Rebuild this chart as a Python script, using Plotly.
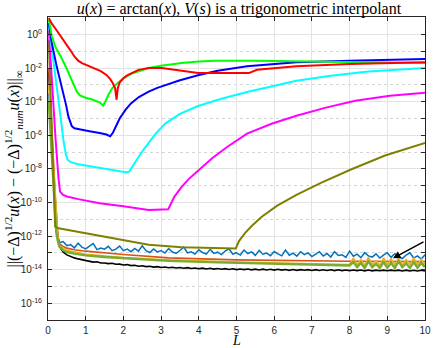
import plotly.graph_objects as go

# ---------------- data (log10 of the error) ----------------
red_L = [0.02, 0.1, 0.2, 0.28, 0.4, 0.5, 0.6, 0.7, 0.8, 0.9, 1.0, 1.2, 1.4, 1.55, 1.65, 1.72, 1.78, 1.82, 1.85, 1.9, 2.0, 2.1, 2.24, 2.4, 2.67, 3.02, 3.98, 5.33, 5.54, 6.59, 8.0, 10.0]
red_v = [1.0, 0.65, 0.35, 0.1, -0.3, -0.6, -0.95, -1.3, -1.55, -1.7, -1.8, -1.97, -2.17, -2.4, -2.65, -2.9, -3.2, -3.88, -3.2, -2.85, -2.6, -2.42, -2.25, -2.1, -1.99, -1.99, -2.29, -2.29, -2.09, -1.89, -1.75, -1.65]

green_L = [0.02, 0.1, 0.2, 0.36, 0.5, 0.58, 0.68, 0.76, 0.85, 1.0, 1.15, 1.28, 1.38, 1.46, 1.52, 1.6, 1.7, 1.8, 2.0, 2.24, 2.5, 2.67, 3.0, 3.54, 4.0, 4.41, 5.5, 6.59, 8.0, 10.0]
green_v = [0.9, -0.1, -0.75, -1.39, -2.05, -2.49, -3.0, -3.38, -3.62, -3.76, -3.85, -3.95, -4.05, -4.23, -4.0, -3.6, -3.2, -2.98, -2.6, -2.3, -2.1, -1.99, -1.85, -1.69, -1.6, -1.55, -1.55, -1.59, -1.64, -1.69]

blue_L = [0.02, 0.1, 0.23, 0.32, 0.41, 0.48, 0.54, 0.59, 0.63, 0.7, 0.85, 1.1, 1.37, 1.55, 1.65, 1.72, 1.8, 1.9, 2.06, 2.2, 2.41, 2.67, 2.9, 3.11, 3.5, 3.98, 4.5, 5.28, 6.0, 6.59, 8.0, 10.0]
blue_v = [0.7, -0.5, -1.89, -2.7, -3.48, -4.2, -4.87, -5.25, -5.45, -5.58, -5.66, -5.75, -5.86, -5.95, -6.06, -5.85, -5.47, -5.0, -4.47, -4.1, -3.72, -3.4, -3.17, -3.0, -2.72, -2.42, -2.15, -1.89, -1.75, -1.65, -1.55, -1.45]

cyan_L = [0.02, 0.1, 0.2, 0.3, 0.41, 0.47, 0.52, 0.6, 0.8, 1.0, 1.37, 1.7, 2.06, 2.15, 2.25, 2.41, 2.54, 2.67, 2.85, 3.11, 3.5, 3.98, 4.6, 5.28, 6.0, 6.59, 7.5, 8.5, 10.0]
cyan_v = [0.6, -0.9, -2.6, -4.3, -6.3, -7.1, -7.45, -7.6, -7.72, -7.8, -7.96, -8.08, -8.2, -8.17, -7.8, -7.26, -6.83, -6.42, -5.92, -5.3, -4.72, -4.25, -3.82, -3.42, -3.05, -2.75, -2.45, -2.2, -1.99]

magenta_L = [0.02, 0.1, 0.2, 0.28, 0.32, 0.4, 0.5, 0.8, 1.37, 2.0, 2.67, 3.19, 3.35, 3.53, 3.71, 3.98, 4.37, 4.76, 5.28, 5.93, 6.59, 7.37, 8.15, 9.07, 10.0]
magenta_v = [0.3, -2.8, -6.2, -8.6, -9.35, -9.55, -9.64, -9.8, -10.04, -10.22, -10.44, -10.4, -9.66, -9.12, -8.65, -8.11, -7.33, -6.68, -5.9, -5.31, -4.83, -4.35, -3.94, -3.64, -3.46]

olive_L = [0.02, 0.1, 0.19, 0.28, 0.5, 1.0, 1.37, 2.0, 2.67, 3.54, 4.3, 4.98, 5.07, 5.23, 5.41, 5.67, 6.07, 6.59, 7.24, 8.02, 8.94, 10.0]
olive_v = [-0.3, -6.0, -11.44, -11.54, -11.63, -11.85, -12.03, -12.28, -12.52, -12.66, -12.72, -12.74, -12.28, -11.81, -11.39, -10.85, -10.2, -9.54, -8.83, -8.05, -7.2, -6.46]

# shared L grid for the noisy curves
grid_L = [0.3, 0.4, 0.5, 0.6, 0.7, 0.8, 0.9, 1.0, 1.1, 1.2,
          1.3, 1.4, 1.5, 1.6, 1.7, 1.8, 1.9, 2.0, 2.1, 2.2,
          2.3, 2.4, 2.5, 2.6, 2.7, 2.8, 2.9, 3.0, 3.1, 3.2,
          3.3, 3.4, 3.5, 3.6, 3.7, 3.8, 3.9, 4.0, 4.1, 4.2,
          4.3, 4.4, 4.5, 4.6, 4.7, 4.8, 4.9, 5.0, 5.1, 5.2,
          5.3, 5.4, 5.5, 5.6, 5.7, 5.8, 5.9, 6.0, 6.1, 6.2,
          6.3, 6.4, 6.5, 6.6, 6.7, 6.8, 6.9, 7.0, 7.1, 7.2,
          7.3, 7.4, 7.5, 7.6, 7.7, 7.8, 7.9, 8.0, 8.1, 8.2,
          8.3, 8.4, 8.5, 8.6, 8.7, 8.8, 8.9, 9.0, 9.1, 9.2,
          9.3, 9.4, 9.5, 9.6, 9.7, 9.8, 9.9, 10.0]

black_head_L = [0.02, 0.1, 0.2]
black_head_v = [-2.2, -6.0, -11.0]
black_v = [-12.60, -12.95, -13.12, -13.22, -13.30, -13.36, -13.40, -13.47, -13.48, -13.55,
           -13.53, -13.60, -13.60, -13.64, -13.62, -13.68, -13.67, -13.72, -13.70, -13.76,
           -13.74, -13.80, -13.77, -13.82, -13.80, -13.85, -13.82, -13.87, -13.84, -13.89,
           -13.86, -13.90, -13.87, -13.92, -13.88, -13.93, -13.90, -13.95, -13.91, -13.96,
           -13.92, -13.97, -13.93, -13.98, -13.94, -13.99, -13.95, -14.00, -13.96, -14.00,
           -13.96, -14.01, -13.97, -14.02, -13.97, -14.02, -13.98, -14.03, -13.98, -14.03,
           -13.99, -14.04, -13.99, -14.04, -14.00, -14.04, -14.00, -14.05, -14.00, -14.05,
           -14.01, -14.05, -14.01, -14.06, -14.01, -14.06, -14.02, -14.06, -14.02, -14.06,
           -14.02, -14.07, -14.02, -14.07, -14.03, -14.07, -14.03, -14.07, -14.03, -14.07,
           -14.03, -14.08, -14.03, -14.08, -14.04, -14.08, -14.04, -14.08]

mblue_head_L = [0.02, 0.15, 0.25]
mblue_head_v = [-3.5, -8.0, -11.8]
mblue_v = [-12.40, -12.33, -12.57, -12.51, -12.70, -12.42, -12.66, -12.76, -12.60, -12.45,
           -12.81, -12.71, -12.78, -12.61, -12.87, -12.78, -12.60, -12.87, -12.77, -12.93,
           -12.74, -12.90, -12.58, -12.87, -12.98, -12.77, -12.94, -12.86, -13.01, -12.74,
           -12.95, -13.03, -12.86, -12.65, -13.00, -12.94, -13.07, -12.82, -12.98, -13.08,
           -12.79, -13.03, -12.96, -13.10, -12.89, -12.76, -13.07, -13.00, -13.13, -12.83,
           -13.04, -12.94, -13.15, -12.85, -13.08, -13.01, -13.17, -12.92, -13.06, -13.18,
           -12.84, -13.14, -13.02, -13.20, -12.93, -13.11, -13.00, -13.22, -13.08, -12.93,
           -13.19, -13.04, -13.25, -12.93, -13.16, -13.11, -13.27, -12.89, -13.20, -13.08,
           -13.29, -12.99, -13.18, -13.25, -13.06, -13.31, -13.14, -12.99, -13.27, -13.05,
           -13.24, -13.34, -13.13, -13.00, -13.31, -13.18, -13.37, -13.12]

orange_L = [0.02, 0.2, 0.27, 0.3, 0.4, 0.5, 0.7, 1.0, 2.0, 3.2, 5.0, 6.6, 8.0, 10.0]
orange_v = [-2.0, -10.0, -12.2, -12.45, -12.62, -12.72, -12.82, -12.9, -13.1, -13.3, -13.42, -13.48, -13.5, -13.52]

yellow_L = [0.02, 0.2, 0.27, 0.3, 0.5, 1.0, 2.0, 3.0, 5.0, 7.0, 8.0,
            8.1, 8.2, 8.3, 8.4, 8.5, 8.6, 8.7, 8.8, 8.9, 9.0,
            9.1, 9.2, 9.3, 9.4, 9.5, 9.6, 9.7, 9.8, 9.9, 10.0]
yellow_v = [-3.0, -10.0, -12.3, -12.55, -12.85, -13.08, -13.28, -13.4, -13.55, -13.65, -13.7,
            -13.30, -13.70, -13.40, -13.75, -13.25, -13.70, -13.45, -13.75, -13.30, -13.72,
            -13.35, -13.70, -13.28, -13.75, -13.40, -13.70, -13.30, -13.72, -13.38, -13.70]

mgreen_L = [0.02, 0.15, 0.22, 0.27, 0.3, 0.4, 0.5, 0.7, 1.0, 1.5, 2.0, 3.2, 4.5, 6.0, 7.0, 8.0,
            8.1, 8.2, 8.3, 8.4, 8.5, 8.6, 8.7, 8.8, 8.9, 9.0,
            9.1, 9.2, 9.3, 9.4, 9.5, 9.6, 9.7, 9.8, 9.9, 10.0]
mgreen_v = [-4.0, -9.5, -11.8, -12.4, -12.6, -12.85, -12.95, -13.05, -13.15, -13.25, -13.33, -13.48, -13.57, -13.63, -13.7, -13.75,
            -13.55, -13.85, -13.60, -13.90, -13.50, -13.85, -13.65, -13.90, -13.55, -13.88,
            -13.60, -13.90, -13.50, -13.85, -13.62, -13.90, -13.55, -13.88, -13.60, -13.85]

arrow_tip = (9.15, -13.32)
arrow_tail = (10.0, -12.3)

x_ticks = [0, 1, 2, 3, 4, 5, 6, 7, 8, 9, 10]
y_major = [0, -2, -4, -6, -8, -10, -12, -14, -16]
y_minor = [1, -1, -3, -5, -7, -9, -11, -13, -15, -17]

# ---------------- figure ----------------
fig = go.Figure()

def add(L, v, color, width):
    fig.add_trace(go.Scatter(x=L, y=[10 ** t for t in v], mode="lines",
                             line=dict(color=color, width=width), hoverinfo="skip"))

add(black_head_L + grid_L, black_head_v + black_v, "#000000", 1.6)
add(mblue_head_L + grid_L, mblue_head_v + mblue_v, "#0072BD", 1.5)
add(orange_L, orange_v, "#D95319", 1.6)
add(yellow_L, yellow_v, "#EDB120", 1.6)
add(mgreen_L, mgreen_v, "#77AC30", 2.4)
add(olive_L, olive_v, "#808000", 2)
add(magenta_L, magenta_v, "#FF00FF", 2)
add(cyan_L, cyan_v, "#00FFFF", 2)
add(blue_L, blue_v, "#0000FF", 2)
add(green_L, green_v, "#00FF00", 2)
add(red_L, red_v, "#FF0000", 2)

axcol = "#262626"
tickfont = dict(family="Liberation Sans, Arial, sans-serif", size=10, color=axcol)

fig.update_xaxes(range=[0, 10], tickvals=x_ticks, ticktext=[str(t) for t in x_ticks],
                 ticks="inside", ticklen=4, tickcolor=axcol, mirror="ticks",
                 showline=True, linecolor=axcol, linewidth=1,
                 showgrid=True, gridcolor="#e3e3e3", gridwidth=1, zeroline=False,
                 tickfont=tickfont, ticklabeloverflow="allow", ticklabelstandoff=1)

fig.update_yaxes(type="log", range=[-17, 1.05],
                 tickvals=[10 ** k for k in y_major],
                 ticktext=["10<sup>%d</sup>" % k for k in y_major],
                 ticks="inside", ticklen=4, tickcolor=axcol, mirror="ticks",
                 showline=True, linecolor=axcol, linewidth=1,
                 showgrid=True, gridcolor="#e3e3e3", gridwidth=1, zeroline=False,
                 tickfont=tickfont, ticklabelstandoff=3,
                 minor=dict(tickvals=[10 ** k for k in y_minor], ticks="inside", ticklen=4,
                            tickcolor=axcol, showgrid=True, gridcolor="#d4d4d4",
                            griddash="dot", gridwidth=1))

serif = "Liberation Serif, Times New Roman, serif"
fig.add_annotation(x=arrow_tip[0], y=arrow_tip[1], ax=arrow_tail[0], ay=arrow_tail[1],
                   xref="x", yref="y", axref="x", ayref="y", text="",
                   showarrow=True, arrowhead=2, arrowsize=1, arrowwidth=1.5, arrowcolor="black")

fig.add_annotation(text="||(−Δ)<sup>1/2</sup><i>u</i>(<i>x</i>) − (−Δ)<sup>1/2</sup><sub><i>num</i></sub><i>u</i>(<i>x</i>)||<sub>∞</sub>",
                   xref="paper", yref="paper", x=-0.093, y=0.5, textangle=-90,
                   showarrow=False, xanchor="center", yanchor="middle",
                   font=dict(family=serif, size=16, color="black"))
fig.add_annotation(text="<i>L</i>", xref="paper", yref="paper", x=0.5, y=-0.0957,
                   showarrow=False, xanchor="center", yanchor="bottom", borderpad=0,
                   font=dict(family=serif, size=14, color="black"))

fig.update_layout(
    width=436, height=348,
    margin=dict(l=48, r=5, t=17, b=28),
    paper_bgcolor="white", plot_bgcolor="white",
    showlegend=False,
    title=dict(text="<i>u</i>(<i>x</i>) = arctan(<i>x</i>), <i>V</i>(<i>s</i>) is a trigonometric interpolant",
               x=0.548, xanchor="center", y=1 - 8.5 / 348, yanchor="middle", yref="container",
               font=dict(family=serif, size=16, color="black")),
)

fig.write_html("out.html", config={"displayModeBar": False},
               post_script="document.body.style.margin='0px';document.body.style.padding='0px';")
